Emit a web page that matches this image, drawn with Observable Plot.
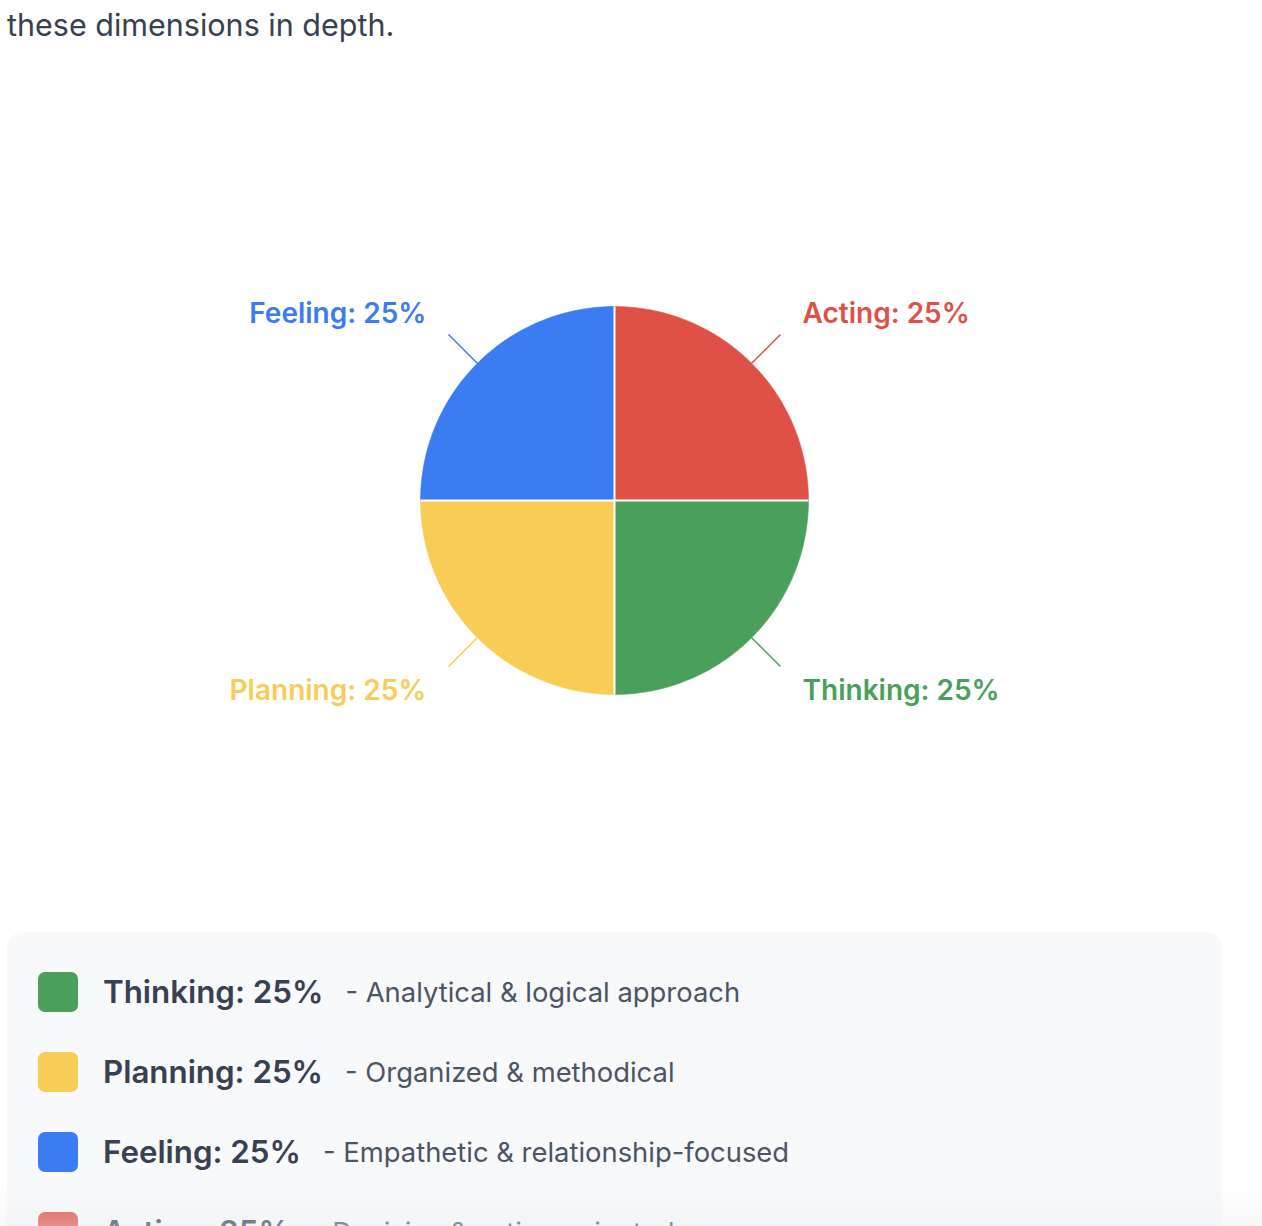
<!DOCTYPE html>
<html>
<head>
<meta charset="utf-8">
<script src="https://cdn.jsdelivr.net/npm/d3@7"></script>
<script src="https://cdn.jsdelivr.net/npm/@observablehq/plot@0.6"></script>
<style>
  html, body { margin: 0; padding: 0; background: #fff; width: 1262px; height: 1226px; overflow: hidden; }
  body { position: relative; font-family: Inter, "Noto Sans", sans-serif; color: #374151; }
  #intro { position: absolute; left: 7px; top: 10px; margin: 0; font-size: 30.5px; line-height: 30px; color: #374151; z-index: 2; white-space: nowrap; }
  #chart { position: absolute; left: 0; top: 0; z-index: 1; }
  #legend { position: absolute; left: 7px; top: 932px; width: 1215px; height: 400px; background: #f8f9fb; border-radius: 16px; box-sizing: border-box; padding: 20px 31px; z-index: 1; }
  .row { height: 80px; display: flex; align-items: center; }
  .sw { width: 40px; height: 40px; border-radius: 7px; flex: none; }
  .lab { margin-left: 25px; font-size: 31.3px; font-weight: 600; color: #374151; }
  .desc { margin-left: 22px; font-size: 27.4px; color: #4b5563; }
  #fade { position: absolute; left: 0; top: 1184px; width: 1262px; height: 42px; z-index: 3;
          background: linear-gradient(to bottom, rgba(255,255,255,0), rgba(236,237,239,0.4)); }
</style>
</head>
<body>
<p id="intro">these dimensions in depth.</p>
<div id="chart"></div>
<div id="legend"></div>
<div id="fade"></div>
<script>
// ---- data ----
const categories = ["Thinking", "Planning", "Feeling", "Acting"];
const values = [25, 25, 25, 25];
const colors = ["#4aa05b", "#f7cd55", "#3b7cf3", "#df5047"];
const descriptions = [
  "Analytical & logical approach",
  "Organized & methodical",
  "Empathetic & relationship-focused",
  "Decisive & action-oriented"
];

// ---- layout ----
const cx = 614, cy = 500, R = 194;
const leadR1 = 1.0, leadR2 = 1.21, labelR = 1.371;

const pie = d3.pie().sort(null).value(d => d.value)
  .startAngle(Math.PI / 2).endAngle(Math.PI / 2 + 2 * Math.PI);
const rows = categories.map((c, i) => ({category: c, value: values[i]}));
const arcs = pie(rows);

// slice outlines (centre -> arc -> centre), arc sampled finely
const slicePts = [];
arcs.forEach(a => {
  const c = a.data.category;
  slicePts.push({category: c, x: 0, y: 0});
  const n = 90;
  for (let k = 0; k <= n; k++) {
    const t = a.startAngle + (a.endAngle - a.startAngle) * k / n;
    slicePts.push({category: c, x: Math.sin(t), y: Math.cos(t)});
  }
  slicePts.push({category: c, x: 0, y: 0});
});

const seps = arcs.map(a => ({x1: 0, y1: 0, x2: Math.sin(a.startAngle), y2: Math.cos(a.startAngle)}));

const labels = arcs.map(a => {
  const m = (a.startAngle + a.endAngle) / 2;
  const s = Math.sin(m), co = Math.cos(m);
  const pct = Math.round(100 * a.value / d3.sum(values));
  return {
    category: a.data.category,
    text: `${a.data.category}: ${pct}%`,
    right: s > 0,
    x1: leadR1 * s, y1: leadR1 * co,
    x2: leadR2 * s, y2: leadR2 * co,
    lx: labelR * s, ly: labelR * co
  };
});

const plot = Plot.plot({
  width: 1262,
  height: 1000,
  margin: 0,
  x: {domain: [-1, 1], range: [cx - R, cx + R], axis: null},
  y: {domain: [-1, 1], range: [cy + R, cy - R], axis: null},
  color: {domain: categories, range: colors},
  style: {background: "transparent", overflow: "visible"},
  marks: [
    Plot.line(slicePts, {x: "x", y: "y", z: "category", fill: "category", stroke: "category", strokeWidth: 0.5}),
    Plot.link(seps, {x1: "x1", y1: "y1", x2: "x2", y2: "y2", stroke: "white", strokeWidth: 2}),
    Plot.link(labels, {x1: "x1", y1: "y1", x2: "x2", y2: "y2", stroke: "category", strokeWidth: 1.5}),
    Plot.text(labels.filter(d => d.right), {x: "lx", y: "ly", text: "text", fill: "category",
      textAnchor: "start", dy: 2, fontSize: 28, fontWeight: 600, fontFamily: "Inter"}),
    Plot.text(labels.filter(d => !d.right), {x: "lx", y: "ly", text: "text", fill: "category",
      textAnchor: "end", dy: 2, fontSize: 28, fontWeight: 600, fontFamily: "Inter"})
  ]
});
document.getElementById("chart").appendChild(plot);

// ---- legend ----
const legend = document.getElementById("legend");
categories.forEach((c, i) => {
  const pct = Math.round(100 * values[i] / d3.sum(values));
  const row = document.createElement("div");
  row.className = "row";
  row.innerHTML = `<div class="sw" style="background:${colors[i]}"></div>` +
    `<span class="lab">${c}: ${pct}%</span>` +
    `<span class="desc">- ${descriptions[i].replace(/&/g, "&amp;")}</span>`;
  legend.appendChild(row);
});
</script>
</body>
</html>
